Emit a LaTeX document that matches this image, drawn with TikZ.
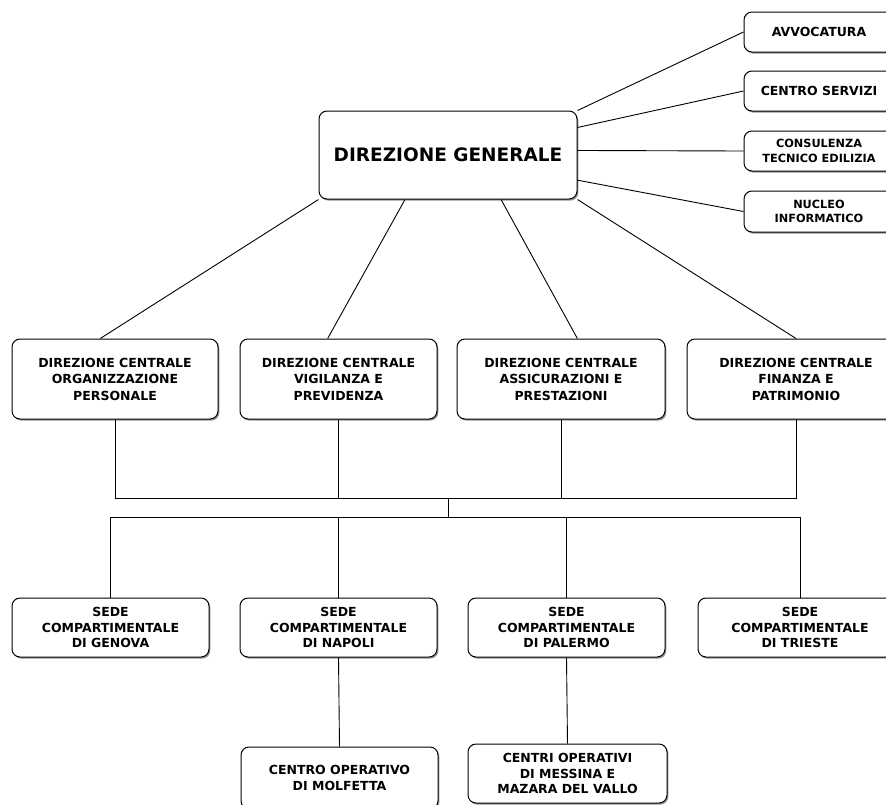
\documentclass[tikz,border=0pt]{standalone}
\usepackage{fontspec}
\setmainfont{DejaVu Sans}
\usetikzlibrary{shadows}

\begin{document}
\begin{tikzpicture}[x=1pt, y=-1pt,
        orgbox/.style={draw, rounded corners=8pt, line width=1pt, fill=white, align=center,
            inner sep=2pt, font=\bfseries\fontsize{12.5}{15.5}\selectfont,
            drop shadow={shadow xshift=1.3pt, shadow yshift=-1.6pt, fill=black!70, opacity=0.6}},
        smalltext/.style={font=\bfseries\fontsize{11.3}{14.3}\selectfont},
        dctext/.style={font=\bfseries\fontsize{12.5}{16.5}\selectfont},
        link/.style={line width=0.9pt}]
        \useasboundingbox (0, 0) rectangle (886, 804);

        \node[orgbox, minimum width=258, minimum height=88, font=\bfseries\fontsize{18.5}{22}\selectfont] (dg) at (448, 155) {DIREZIONE GENERALE};

        \node[orgbox, minimum width=150, minimum height=40] (avv) at (819, 32) {AVVOCATURA};
        \node[orgbox, minimum width=150, minimum height=40] (cs) at (819, 91) {CENTRO SERVIZI};
        \node[orgbox, smalltext, minimum width=150, minimum height=40] (cte) at (819, 151) {CONSULENZA\\TECNICO EDILIZIA};
        \node[orgbox, smalltext, minimum width=150, minimum height=41] (ni) at (819, 211.5) {NUCLEO\\INFORMATICO};

        \node[orgbox, dctext, minimum width=206, minimum height=80] (dc1) at (115, 379) {DIREZIONE CENTRALE\\ORGANIZZAZIONE\\PERSONALE};
        \node[orgbox, dctext, minimum width=197, minimum height=80] (dc2) at (338.5, 379) {DIREZIONE CENTRALE\\VIGILANZA E\\PREVIDENZA};
        \node[orgbox, dctext, minimum width=208, minimum height=80] (dc3) at (561, 379) {DIREZIONE CENTRALE\\ASSICURAZIONI E\\PRESTAZIONI};
        \node[orgbox, dctext, minimum width=218, minimum height=80] (dc4) at (796, 379) {DIREZIONE CENTRALE\\FINANZA E\\PATRIMONIO};

        \node[orgbox, minimum width=197, minimum height=59] (sc1) at (110.5, 627.5) {SEDE\\COMPARTIMENTALE\\DI GENOVA};
        \node[orgbox, minimum width=197, minimum height=59] (sc2) at (338.5, 627.5) {SEDE\\COMPARTIMENTALE\\DI NAPOLI};
        \node[orgbox, minimum width=197, minimum height=59] (sc3) at (566.5, 627.5) {SEDE\\COMPARTIMENTALE\\DI PALERMO};
        \node[orgbox, minimum width=204, minimum height=59] (sc4) at (800, 627.5) {SEDE\\COMPARTIMENTALE\\DI TRIESTE};

        \node[orgbox, minimum width=197, minimum height=62] (co1) at (339.5, 778) {CENTRO OPERATIVO\\DI MOLFETTA};
        \node[orgbox, minimum width=199, minimum height=59] (co2) at (567.5, 773.5) {CENTRI OPERATIVI\\DI MESSINA E\\MAZARA DEL VALLO};

        \draw[link] (dg.north east) -- (avv.west);
        \draw[link] (dg.12) -- (cs.west);
        \draw[link] (dg.2) -- (cte.west);
        \draw[link] (dg.-11) -- (ni.west);

        \draw[link] (dg.south west) -- (dc1.110);
        \draw[link] (dg.226) -- (dc2.105);
        \draw[link] (dg.-40) -- (dc3.68);
        \draw[link] (dg.south east) -- (dc4.north);

        \coordinate (bus1) at (448, 498);
        \coordinate (bus2) at (448, 517);
        \foreach \n in {dc1, dc2, dc3, dc4}
            \draw[link] (\n.south) |- (bus1);
        \draw[link] (bus1) -- (bus2);
        \foreach \n in {sc1, sc2, sc3, sc4}
            \draw[link] (\n.north) |- (bus2);

        \draw[link] (sc2.south) -- (co1.north);
        \draw[link] (sc3.south) -- (co2.north);

    \end{tikzpicture}
\end{document}
